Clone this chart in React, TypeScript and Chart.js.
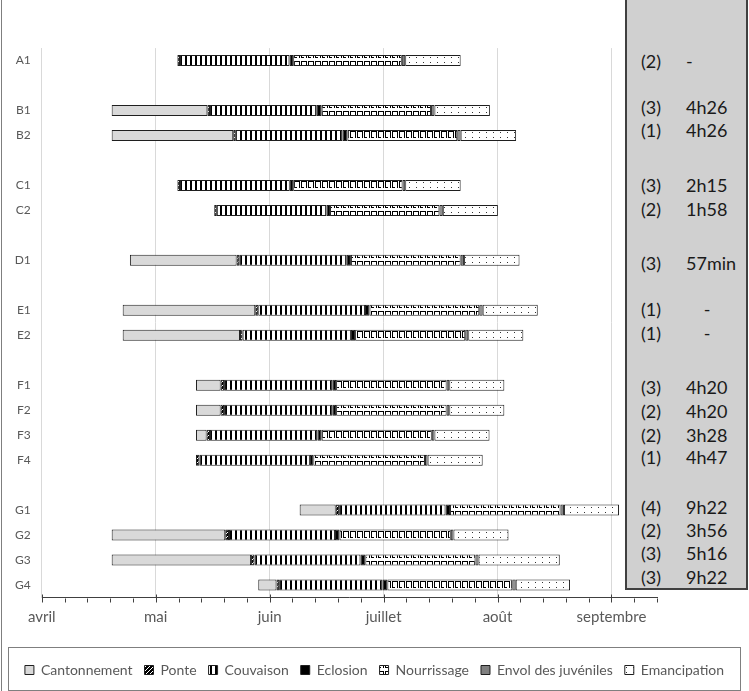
import { useEffect, useRef } from 'react';
import { Chart, registerables } from 'chart.js';

Chart.register(...registerables);

// Nest identifiers (blank entries are spacer rows between sites)
const rows = ['A1', '', 'B1', 'B2', '', 'C1', 'C2', '', 'D1', '', 'E1', 'E2', '', 'F1', 'F2', 'F3', 'F4', '', 'G1', 'G2', 'G3', 'G4'];

// Durations in days, counted from 1 April
const debut = [35.7, null, 18.4, 18.4, null, 35.7, 45.4, null, 23.2, null, 21.3, 21.3, null, 40.6, 40.6, 40.6, 40.6, null, 67.9, 18.4, 18.4, 57.0];
const cantonnement = [0, null, 25.2, 32.0, null, 0, 0, null, 28.1, null, 34.9, 30.9, null, 6.5, 6.5, 2.8, 0, null, 9.5, 29.9, 36.7, 4.8];
const ponte = [0.7, null, 0.7, 0.7, null, 0.7, 0.7, null, 0.7, null, 0.8, 0.7, null, 0.9, 0.9, 0.9, 0.9, null, 0.9, 1.0, 0.9, 0.7];
const couvaison = [28.8, null, 28.1, 28.1, null, 28.9, 28.9, null, 28.3, null, 28.1, 28.5, null, 28.5, 28.5, 28.3, 29.1, null, 28.0, 27.9, 27.9, 27.2];
const eclosion = [1.0, null, 1.3, 1.3, null, 0.9, 0.9, null, 1.1, null, 1.2, 1.1, null, 1.0, 1.0, 1.1, 0.9, null, 1.2, 1.2, 1.3, 1.3];
const nourrissage = [28.6, null, 28.8, 28.9, null, 28.8, 28.8, null, 28.9, null, 28.9, 29.0, null, 29.1, 29.1, 29.0, 29.4, null, 29.1, 29.3, 29.0, 32.9];
const envol = [0.9, null, 0.9, 0.9, null, 0.7, 0.9, null, 0.9, null, 0.9, 0.8, null, 0.7, 0.7, 0.7, 0.7, null, 0.9, 0.7, 0.8, 0.9];
const emancipation = [14.6, null, 14.6, 14.6, null, 14.6, 14.5, null, 14.6, null, 14.5, 14.5, null, 14.5, 14.5, 14.5, 14.5, null, 14.5, 14.5, 21.4, 14.3];

// Month axis
const monthLabels = ['avril', 'mai', 'juin', 'juillet', 'août', 'septembre'];
const monthStarts = [0, 30, 60, 90, 120, 150];
const axisMax = 162;
const minorStep = 6;

// Side panel: number of observations and duration per nest
const panelCounts = ['(2)', '(3)', '(1)', '(3)', '(2)', '(3)', '(1)', '(1)', '(3)', '(2)', '(2)', '(1)', '(4)', '(2)', '(3)', '(3)'];
const panelDurations = ['-', '4h26', '4h26', '2h15', '1h58', '57min', '-', '-', '4h20', '4h20', '3h28', '4h47', '9h22', '3h56', '5h16', '9h22'];

// Side panel layout
const panelLineY = [60.7, 106.7, 130, 185, 209, 262.7, 309, 333.3, 386.7, 410.7, 435, 456.7, 506.7, 530, 553.3, 576.7];
const panelValueCentered = [false, false, false, false, false, false, true, true, false, false, false, false, false, false, false, false];

const FONT = 'Lato, "Noto Sans", sans-serif';
const EDGE = '#1f1f1f';

function makePattern(w: number, h: number, draw: (ctx: CanvasRenderingContext2D) => void) {
  const c = document.createElement('canvas');
  c.width = w;
  c.height = h;
  const ctx = c.getContext('2d')!;
  draw(ctx);
  return ctx.createPattern(c, 'repeat')!;
}

const axisTicksPlugin = {
  id: 'axisTicks',
  afterDraw(chart: any) {
    const { ctx } = chart;
    const x = chart.scales.x;
    const y0 = Math.round(x.top) + 0.5;
    ctx.save();
    ctx.strokeStyle = '#404040';
    ctx.lineWidth = 1;
    for (let v = 0; v <= axisMax; v += minorStep) {
      const px = Math.round(x.getPixelForValue(v)) + 0.5;
      const major = monthStarts.includes(v);
      ctx.beginPath();
      ctx.moveTo(px, major ? y0 - 4 : y0);
      ctx.lineTo(px, y0 + 4);
      ctx.stroke();
    }
    // legend frame
    ctx.strokeStyle = '#7f7f7f';
    ctx.strokeRect(8.5, 647.5, 732, 43);
    ctx.restore();
  },
};

export default function App() {
  const ref = useRef<HTMLCanvasElement>(null);

  useEffect(() => {
    const canvas = ref.current!;
    const ponteFill = makePattern(4, 4, (c) => {
      c.fillStyle = '#000';
      c.fillRect(0, 0, 4, 4);
      c.fillStyle = '#fff';
      for (let i = 0; i < 4; i++) c.fillRect(i, 3 - i, 1, 1);
    });
    const couvaisonFill = makePattern(5, 1, (c) => {
      c.fillStyle = '#fff';
      c.fillRect(0, 0, 5, 1);
      c.fillStyle = '#000';
      c.fillRect(0, 0, 2, 1);
    });
    const nourrissageFill = makePattern(7, 10, (c) => {
      c.fillStyle = '#fff';
      c.fillRect(0, 0, 7, 10);
      c.fillStyle = '#000';
      c.fillRect(0, 1, 6, 1);
      c.fillRect(0, 1, 1, 7);
      c.fillRect(5, 1, 1, 7);
      c.fillRect(1, 7, 2, 1);
    });
    const emancipationFill = makePattern(7, 5, (c) => {
      c.fillStyle = '#fff';
      c.fillRect(0, 0, 7, 5);
      c.fillStyle = '#333';
      c.fillRect(3, 2, 1, 1);
    });

    const seg = (label: string, data: (number | null)[], fill: any) => ({
      label,
      data,
      backgroundColor: fill,
      borderColor: EDGE,
      borderWidth: 1,
      borderSkipped: false,
    });

    const chart = new Chart(canvas, {
      type: 'bar',
      data: {
        labels: rows,
        datasets: [
          { label: 'debut', data: debut, backgroundColor: 'rgba(0,0,0,0)', borderWidth: 0 } as any,
          seg('Cantonnement', cantonnement, '#d9d9d9'),
          seg('Ponte', ponte, ponteFill),
          seg('Couvaison', couvaison, couvaisonFill),
          seg('Eclosion', eclosion, '#000000'),
          seg('Nourrissage', nourrissage, nourrissageFill),
          seg('Envol des juvéniles', envol, '#808080'),
          seg('Emancipation', emancipation, emancipationFill),
        ],
      },
      options: {
        indexAxis: 'y',
        responsive: false,
        animation: false,
        events: [],
        layout: { padding: { left: 0, right: 0, top: 48.1, bottom: 4 } },
        datasets: { bar: { categoryPercentage: 1, barPercentage: 0.44 } },
        scales: {
          x: {
            type: 'linear',
            stacked: true,
            min: 0,
            max: axisMax,
            afterBuildTicks: (s: any) => {
              s.ticks = monthStarts.map((v) => ({ value: v }));
            },
            afterFit: (s: any) => {
              s.height = 53.5;
            },
            ticks: {
              autoSkip: false,
              maxRotation: 0,
              padding: 11,
              color: '#595959',
              font: { family: FONT, size: 15 },
              callback: (_v: any, i: number) => monthLabels[i],
            },
            grid: { color: '#d9d9d9', drawTicks: false },
            border: { color: '#404040', width: 1 },
          },
          y: {
            type: 'category',
            stacked: true,
            afterFit: (s: any) => {
              s.width = 41.8;
            },
            ticks: {
              autoSkip: false,
              padding: 11,
              color: '#595959',
              font: { family: FONT, size: 12 },
            },
            grid: { display: false, drawTicks: false },
            border: { color: '#d9d9d9', width: 1 },
          },
          side: {
            type: 'linear',
            position: 'right',
            afterFit: (s: any) => {
              s.width = 92;
            },
            ticks: { display: false },
            grid: { display: false },
            border: { display: false },
          },
        },
        plugins: {
          tooltip: { enabled: false },
          legend: {
            position: 'bottom',
            labels: {
              boxWidth: 9,
              boxHeight: 9,
              padding: 12,
              color: '#595959',
              font: { family: FONT, size: 14 },
              filter: (item: any) => item.datasetIndex !== 0,
            },
          },
        },
      } as any,
      plugins: [axisTicksPlugin],
    });
    return () => chart.destroy();
  }, []);

  return (
    <div style={{ position: 'absolute', left: 0, top: 0, width: 749, height: 691, background: '#fff', overflow: 'hidden', fontFamily: FONT }}>
      <canvas ref={ref} width={749} height={691} style={{ position: 'absolute', left: 0, top: 0 }} />
      <div style={{ position: 'absolute', left: 1, top: 0, width: 1, height: 691, background: '#7f7f7f' }} />
      <div
        style={{
          position: 'absolute',
          left: 625,
          top: -2,
          width: 119,
          height: 588,
          background: '#d0d0d0',
          border: '2px solid #404040',
        }}
      />
      {panelCounts.map((n, i) => (
        <div key={i}>
          <div style={{ position: 'absolute', left: 641, top: panelLineY[i] - 11, lineHeight: '22px', fontSize: 18, color: '#1a1a1a' }}>{n}</div>
          <div
            style={{
              position: 'absolute',
              left: 686,
              width: panelValueCentered[i] ? 42 : undefined,
              textAlign: panelValueCentered[i] ? 'center' : 'left',
              top: panelLineY[i] - 11,
              lineHeight: '22px',
              fontSize: 18,
              color: '#1a1a1a',
            }}
          >
            {panelDurations[i]}
          </div>
        </div>
      ))}
    </div>
  );
}
